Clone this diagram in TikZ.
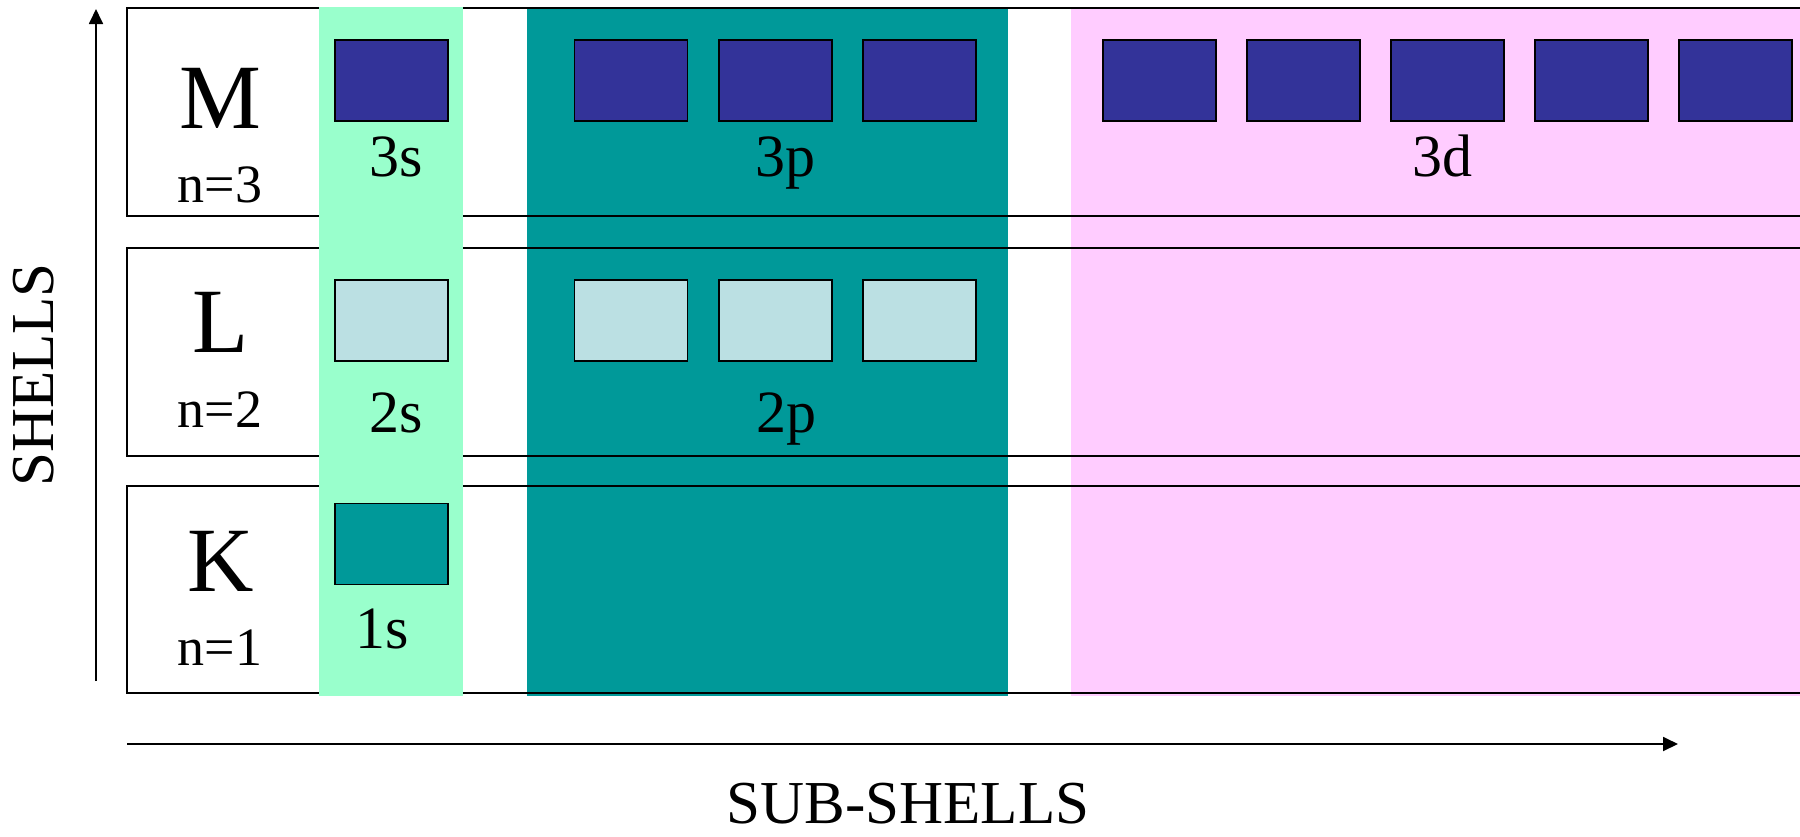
\documentclass[tikz,border=0pt]{standalone}
\usepackage{fontspec}
\setmainfont{Liberation Serif}
\usetikzlibrary{arrows.meta}

\definecolor{orbdark}{HTML}{333399}
\definecolor{orblight}{HTML}{BBE0E3}
\definecolor{sband}{HTML}{99FFCC}
\definecolor{pband}{HTML}{009999}
\definecolor{dband}{HTML}{FFCCFF}

\tikzset{
  orb/.style={draw=black, line width=1.8pt, minimum width=113pt, minimum height=81pt,
              inner sep=0pt, outer sep=0pt},
  shellline/.style={draw=black, line width=2pt},
  axis/.style={draw=black, line width=1.8pt, -{Triangle[length=15pt,width=14pt]}},
  shellname/.style={anchor=base, font=\fontsize{92pt}{92pt}\selectfont},
  nlabel/.style={anchor=base, font=\fontsize{54pt}{54pt}\selectfont},
  sublabel/.style={anchor=base, font=\fontsize{60pt}{60pt}\selectfont},
  axislabel/.style={anchor=base, inner sep=0pt, font=\fontsize{61pt}{61pt}\selectfont},
}

\begin{document}
\begin{tikzpicture}[x=1pt, y=-1pt]
  \useasboundingbox (0,0) rectangle (1800,836);

  % p and d sub-shell bands (behind the shell outlines)
  \fill[pband] (527,8) rectangle (1008,696);
  \fill[dband] (1071,8) rectangle (1800,696);

  % shell outlines, open towards the right
  \draw[shellline] (1800,8)   -- (127,8)   -- (127,216) -- (1800,216);
  \draw[shellline] (1800,248) -- (127,248) -- (127,456) -- (1800,456);
  \draw[shellline] (1800,486) -- (127,486) -- (127,693) -- (1800,693);

  % s sub-shell band (in front of the outlines)
  \fill[sband] (319,7) rectangle (463,696);

  % orbitals, shell M (n=3)
  \node[orb, fill=orbdark] (m3s)  at (391.5,80.5) {};
  \node[orb, fill=orbdark] (m3p1) at (631,80.5) {};
  \node[orb, fill=orbdark] (m3p2) at (775.5,80.5) {};
  \node[orb, fill=orbdark] (m3p3) at (919.5,80.5) {};
  \node[orb, fill=orbdark] (m3d1) at (1159.5,80.5) {};
  \node[orb, fill=orbdark] (m3d2) at (1303.5,80.5) {};
  \node[orb, fill=orbdark] (m3d3) at (1447.5,80.5) {};
  \node[orb, fill=orbdark] (m3d4) at (1591.5,80.5) {};
  \node[orb, fill=orbdark] (m3d5) at (1735.5,80.5) {};

  % orbitals, shell L (n=2)
  \node[orb, fill=orblight] (l2s)  at (391.5,320.5) {};
  \node[orb, fill=orblight] (l2p1) at (631,320.5) {};
  \node[orb, fill=orblight] (l2p2) at (775.5,320.5) {};
  \node[orb, fill=orblight] (l2p3) at (919.5,320.5) {};

  % orbital, shell K (n=1)
  \node[orb, fill=pband] (k1s) at (391.5,544) {};

  % shell names
  \node[shellname] (nameM) at (220,128) {M};
  \node[shellname] (nameL) at (221,352) {L};
  \node[shellname] (nameK) at (221,591) {K};
  \node[nlabel] (n3) at (220,202) {n=3};
  \node[nlabel] (n2) at (220,427) {n=2};
  \node[nlabel] (n1) at (220,665) {n=1};

  % sub-shell names
  \node[sublabel] (t3s) at (396.5,176) {3s};
  \node[sublabel] (t3p) at (785,176) {3p};
  \node[sublabel] (t3d) at (1442.5,176) {3d};
  \node[sublabel] (t2s) at (396.5,432) {2s};
  \node[sublabel] (t2p) at (786,432) {2p};
  \node[sublabel] (t1s) at (382,648) {1s};

  % axes
  \coordinate (vlow) at (96,681);
  \coordinate (vtop) at (96,9);
  \coordinate (hleft) at (127,744);
  \coordinate (hright) at (1678,744);
  \draw[axis] (vlow) -- (vtop);
  \draw[axis] (hleft) -- (hright);

  \node[axislabel, rotate=90] (shells) at (53,375) {SHELLS};
  \node[axislabel] (subshells) at (908,823) {SUB-SHELLS};
\end{tikzpicture}
\end{document}
